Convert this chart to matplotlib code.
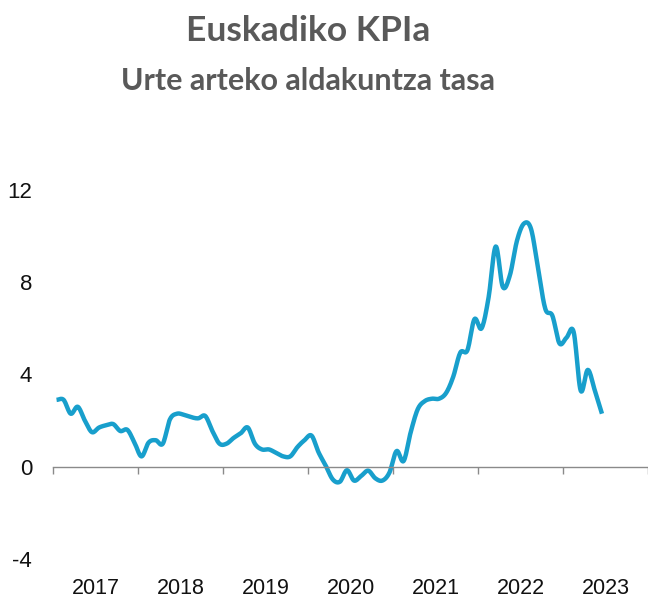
import numpy as np
import matplotlib
matplotlib.use("Agg")
import matplotlib.pyplot as plt
from matplotlib import font_manager

plt.rcParams["axes.unicode_minus"] = False

# Urte arteko KPI tasa, hilabetez (2017-01 .. 2023-06)
urteak = ["2017", "2018", "2019", "2020", "2021", "2022", "2023"]
tasa = [2.9, 2.9, 2.3, 2.6, 2.0, 1.5, 1.7, 1.8, 1.85, 1.55, 1.6, 1.05,
        0.45, 1.05, 1.15, 1.0, 2.05, 2.3, 2.25, 2.15, 2.1, 2.2, 1.55, 1.0,
        1.0, 1.25, 1.45, 1.7, 1.0, 0.75, 0.75, 0.6, 0.45, 0.45, 0.85, 1.15,
        1.35, 0.62, 0.05, -0.55, -0.65, -0.15, -0.6, -0.4, -0.17, -0.5, -0.6, -0.25,
        0.68, 0.25, 1.5, 2.5, 2.85, 2.95, 2.95, 3.2, 3.9, 4.95, 5.05, 6.4,
        6.0, 7.35, 9.55, 7.8, 8.3, 9.8, 10.55, 10.3, 8.55, 6.85, 6.55, 5.35,
        5.6, 5.85, 3.3, 4.2, 3.3, 2.3]

izenburua = "Euskadiko KPIa"
azpititulua = "Urte arteko aldakuntza tasa"

installed = {f.name for f in font_manager.fontManager.ttflist}
tick_font = "Liberation Sans Narrow" if "Liberation Sans Narrow" in installed else "Liberation Sans"
title_font = "Lato" if "Lato" in installed else "DejaVu Sans"


def smooth(x, y, n=12):
    # Catmull-Rom, Excel-eko "smoothed line" antzera
    x = np.asarray(x, float)
    y = np.asarray(y, float)
    px = np.concatenate([[2 * x[0] - x[1]], x, [2 * x[-1] - x[-2]]])
    py = np.concatenate([[2 * y[0] - y[1]], y, [2 * y[-1] - y[-2]]])
    t = np.linspace(0, 1, n, endpoint=False)
    xs, ys = [], []
    for i in range(1, len(px) - 2):
        for p, out in ((px, xs), (py, ys)):
            p0, p1, p2, p3 = p[i - 1], p[i], p[i + 1], p[i + 2]
            out.append(0.5 * (2 * p1 + (-p0 + p2) * t
                              + (2 * p0 - 5 * p1 + 4 * p2 - p3) * t ** 2
                              + (-p0 + 3 * p1 - 3 * p2 + p3) * t ** 3))
    xs.append([x[-1]])
    ys.append([y[-1]])
    return np.concatenate(xs), np.concatenate(ys)


hil = np.arange(len(tasa))
sx, sy = smooth(hil, tasa)

fig = plt.figure(figsize=(6.48, 6.01), dpi=100)
ax = fig.add_axes([53 / 648, 1 - 559 / 601, 1 - 53 / 648, 369 / 601])

ax.plot(sx, sy, color="#189fcc", lw=3.2, solid_capstyle="butt", solid_joinstyle="round")

ax.set_xlim(-0.5, 12 * len(urteak) - 0.5)
ax.set_ylim(-4, 12)
ax.set_yticks([-4, 0, 4, 8, 12])
ax.tick_params(axis="y", length=0, pad=15, labelsize=16, labelcolor="#111111")
for lb in ax.get_yticklabels():
    lb.set_fontfamily(tick_font)

for s in ("left", "right", "top"):
    ax.spines[s].set_visible(False)
ax.spines["bottom"].set_position(("data", 0))
ax.spines["bottom"].set_color("#8a8a8a")
ax.spines["bottom"].set_linewidth(1.0)

muga = np.arange(len(urteak) + 1) * 12 - 0.5
ax.set_xticks(muga)
ax.set_xticklabels([])
ax.tick_params(axis="x", length=5, width=1.0, color="#8a8a8a", direction="out")

sec = ax.secondary_xaxis(0.0)
sec.set_xticks(np.arange(len(urteak)) * 12 + 5.5, urteak)
sec.spines["bottom"].set_visible(False)
sec.tick_params(length=0, pad=14, labelsize=15.5, labelcolor="#111111")
for lb in sec.get_xticklabels():
    lb.set_fontfamily(tick_font)

fig.text(308 / 648, 1 - 41 / 601, izenburua, ha="center", va="baseline",
         fontsize=25.5, fontweight="bold", color="#595959", fontfamily=title_font)
fig.text(308 / 648, 1 - 90 / 601, azpititulua, ha="center", va="baseline",
         fontsize=22, fontweight="bold", color="#595959", fontfamily=title_font)

fig.savefig("out.png", dpi=100)
